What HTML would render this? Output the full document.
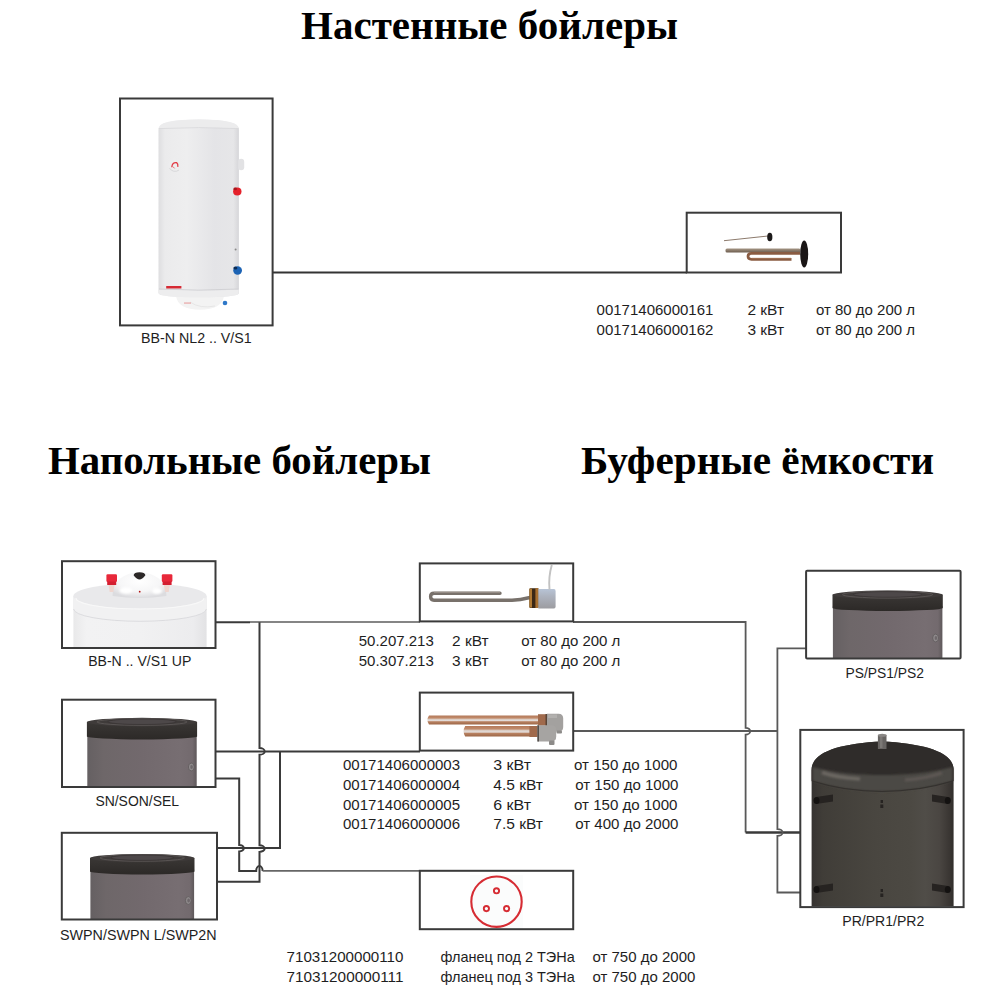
<!DOCTYPE html>
<html><head><meta charset="utf-8"><title>Boilers</title>
<style>
html,body{margin:0;padding:0;background:#fff;width:1000px;height:1000px;overflow:hidden}
svg{display:block}
text{font-family:"Liberation Sans",sans-serif}
.h{font-family:"Liberation Serif",serif;font-weight:bold;font-size:39px;fill:#000}
.t{font-size:14.8px;fill:#1e1e1e}
.l{font-size:14.8px;fill:#1e1e1e}
.bx{fill:none;stroke:#3a3a3a;stroke-width:2}
.ln{fill:none;stroke:#474747;stroke-width:1.6}
</style></head><body>
<svg width="1000" height="1000" viewBox="0 0 1000 1000">
<defs>
<linearGradient id="gWhite" x1="0" x2="1" y1="0" y2="0">
 <stop offset="0" stop-color="#dedee0"/>
 <stop offset="0.08" stop-color="#ebebec"/>
 <stop offset="0.35" stop-color="#eeeeef"/>
 <stop offset="0.7" stop-color="#e4e4e7"/>
 <stop offset="0.93" stop-color="#e6e6e8"/>
 <stop offset="1" stop-color="#d6d6d9"/>
</linearGradient>
<linearGradient id="gWhite2" x1="0" x2="1" y1="0" y2="0">
 <stop offset="0" stop-color="#e9e9ea"/>
 <stop offset="0.1" stop-color="#f2f2f3"/>
 <stop offset="0.5" stop-color="#f1f1f2"/>
 <stop offset="0.9" stop-color="#ececee"/>
 <stop offset="1" stop-color="#e2e2e4"/>
</linearGradient>
<linearGradient id="gGray" x1="0" x2="1" y1="0" y2="0">
 <stop offset="0" stop-color="#656062"/>
 <stop offset="0.15" stop-color="#6e6769"/>
 <stop offset="0.5" stop-color="#72696d"/>
 <stop offset="0.85" stop-color="#776e72"/>
 <stop offset="0.96" stop-color="#736a6e"/>
 <stop offset="1" stop-color="#5e585a"/>
</linearGradient>
<linearGradient id="gLid" x1="0" x2="0" y1="0" y2="1">
 <stop offset="0" stop-color="#3a3735"/>
 <stop offset="1" stop-color="#2c2927"/>
</linearGradient>
<linearGradient id="gDark" x1="0" x2="1" y1="0" y2="0">
 <stop offset="0" stop-color="#363331"/>
 <stop offset="0.08" stop-color="#403d38"/>
 <stop offset="0.45" stop-color="#494640"/>
 <stop offset="0.7" stop-color="#4c4943"/>
 <stop offset="0.8" stop-color="#504d48"/>
 <stop offset="0.9" stop-color="#4a4642"/>
 <stop offset="0.97" stop-color="#3a3633"/>
 <stop offset="1" stop-color="#312e2b"/>
</linearGradient>
<linearGradient id="gDome" x1="0" x2="0" y1="0" y2="1">
 <stop offset="0" stop-color="#2c2927"/>
 <stop offset="0.5" stop-color="#32302d"/>
 <stop offset="1" stop-color="#3c3936"/>
</linearGradient>
<radialGradient id="gDomeW" cx="0.5" cy="0.35" r="0.65">
 <stop offset="0" stop-color="#ffffff"/>
 <stop offset="0.6" stop-color="#f6f6f7"/>
 <stop offset="1" stop-color="#dcdcdf"/>
</radialGradient>
<filter id="blur1" x="-20%" y="-50%" width="140%" height="200%"><feGaussianBlur stdDeviation="1"/></filter>
<filter id="blur2" x="-20%" y="-50%" width="140%" height="200%"><feGaussianBlur stdDeviation="2"/></filter>
<linearGradient id="gCopper" x1="0" x2="0" y1="0" y2="1">
 <stop offset="0" stop-color="#b47a5a"/>
 <stop offset="0.3" stop-color="#c28c6c"/>
 <stop offset="0.38" stop-color="#d9c8bd"/>
 <stop offset="0.58" stop-color="#e4dedb"/>
 <stop offset="0.68" stop-color="#b98262"/>
 <stop offset="1" stop-color="#9c6646"/>
</linearGradient>
<linearGradient id="gCap" x1="0" x2="0" y1="0" y2="1">
 <stop offset="0" stop-color="#9a9a9c"/>
 <stop offset="0.5" stop-color="#a9a9aa"/>
 <stop offset="1" stop-color="#8f8f91"/>
</linearGradient>
<linearGradient id="gCap1" x1="0" x2="0" y1="0" y2="1">
 <stop offset="0" stop-color="#b8c4d6"/>
 <stop offset="0.35" stop-color="#aeb4c0"/>
 <stop offset="1" stop-color="#9c9ca0"/>
</linearGradient>
<linearGradient id="gRod" x1="0" x2="0" y1="0" y2="1">
 <stop offset="0" stop-color="#a39483"/>
 <stop offset="0.45" stop-color="#8c7c6c"/>
 <stop offset="1" stop-color="#6a5a4c"/>
</linearGradient>
</defs>
<!-- images -->
<g>
<path d="M176 296 Q178 309.5 200 309.8 Q222 309.5 224 296 Z" fill="#f3f3f3"/>
<path d="M190 302 Q200 309 215 306" fill="none" stroke="#e6e6e6" stroke-width="1"/>
<path d="M158.5 130 Q158.5 119.5 198.7 119.5 Q238.9 119.5 238.9 130 V293 Q238.9 297.3 198.7 297.3 Q158.5 297.3 158.5 293 Z" fill="url(#gWhite)"/>
<path d="M158.6 289.5 Q198.7 292 238.8 289.5 V293 Q238.9 297.3 198.7 297.3 Q158.5 297.3 158.6 293 Z" fill="#ededee"/>
<path d="M158.6 128.5 Q158.6 119.5 198.7 119.5 Q238.8 119.5 238.8 128.5 Q198.7 126.5 158.6 128.5 Z" fill="#ececed"/>
<path d="M158.8 128.6 Q198.7 126.6 238.6 128.6" fill="none" stroke="#d6d6d8" stroke-width="0.7"/>
<path d="M159 289 Q198.7 291.3 238.5 289" fill="none" stroke="#cfcfd2" stroke-width="0.9"/>
<rect x="238.2" y="158.8" width="6" height="11.4" rx="3" fill="#e2e2e4"/>
<circle cx="174.6" cy="165" r="6.3" fill="#ededee"/>
<path d="M169.5 168 A6.3 6.3 0 0 0 179 170" fill="none" stroke="#d8d8da" stroke-width="1"/>
<path d="M171.8 167.3 Q172.2 162 176.6 162.6 Q178.3 163.8 177.8 166.8" fill="none" stroke="#e23a44" stroke-width="1.3"/>
<path d="M172.8 166.5 L174.6 168.4" stroke="#e86a70" stroke-width="1"/>
<ellipse cx="237.3" cy="191.6" rx="4.2" ry="4" fill="#e5212b"/>
<ellipse cx="235.2" cy="188.9" rx="1.8" ry="1.4" fill="#a8161c"/>
<ellipse cx="237.6" cy="270.5" rx="4.4" ry="4.2" fill="#1c63b4"/>
<ellipse cx="235.4" cy="268" rx="2" ry="1.5" fill="#0b2c55"/>
<circle cx="235.6" cy="249.5" r="1" fill="#8a8a8a"/>
<rect x="166.2" y="286" width="15.2" height="2.5" fill="#d62a34"/>
<rect x="184" y="302.5" width="7" height="1.1" fill="#e8a0a0"/>
<circle cx="225" cy="303" r="2.3" fill="#2f78c8"/>
</g>
<g>
<line x1="724" y1="240.7" x2="768" y2="236" stroke="#8c7a6c" stroke-width="1"/>
<ellipse cx="769.8" cy="237" rx="2.6" ry="4.3" fill="#1c1a1a"/>
<rect x="725.5" y="248.6" width="75" height="4" rx="1.5" fill="url(#gRod)"/>
<path d="M800 253.3 H751.5 Q748 253.3 748 256.3 Q748 259.3 751.5 259.3 H791.5" fill="none" stroke="#8a5c42" stroke-width="2.7"/>
<path d="M751.5 258.3 H791" fill="none" stroke="#a87a5c" stroke-width="0.8"/>
<ellipse cx="804.2" cy="254" rx="4" ry="13.5" fill="#1a1616"/>
</g>
<g>
<rect x="73.4" y="596" width="133.2" height="51" fill="url(#gWhite2)"/>
<path d="M73.4 596 V609 A66.6 12.5 0 0 0 206.6 609 V596 Z" fill="#f1f1f2"/>
<path d="M73.6 609 A66.4 12.3 0 0 0 206.4 609" fill="none" stroke="#d9d9dd" stroke-width="0.9"/>
<ellipse cx="140" cy="596" rx="66.6" ry="12.6" fill="#e9e9eb"/>
<path d="M76 598 A64 11 0 0 0 204 598" fill="none" stroke="#f8f8f8" stroke-width="1.2"/>
<path d="M112.6 596 C112.6 581 124 572.6 139.5 572.6 C155 572.6 166.4 581 166.4 596 Q139.5 600 112.6 596 Z" fill="url(#gDomeW)"/>
<ellipse cx="126" cy="590.5" rx="6.5" ry="3.2" fill="#ffffff" filter="url(#blur1)"/>
<ellipse cx="157" cy="591" rx="5" ry="3" fill="#ffffff" filter="url(#blur1)"/>
<path d="M133.6 575.3 Q134 572.4 139.5 572.3 Q145 572.4 145.4 575.3 Q142 579.6 139.5 579.6 Q137 579.6 133.6 575.3 Z" fill="#2c2828"/>
<circle cx="139.7" cy="591.7" r="0.9" fill="#b01010"/>
<rect x="106.4" y="574.2" width="10.6" height="7.8" rx="1.2" fill="#e8283a"/>
<rect x="107.2" y="581.5" width="9" height="3.5" fill="#d41f30"/>
<path d="M108.5 585 H114.5 L113.3 592 H109.7 Z" fill="#efd6cf"/>
<rect x="161.8" y="574.2" width="10.6" height="7.8" rx="1.2" fill="#e8283a"/>
<rect x="162.6" y="581.5" width="9" height="3.5" fill="#d41f30"/>
<path d="M163.9 585 H169.9 L168.7 592 H165.1 Z" fill="#efd6cf"/>
</g>
<rect x="87.3" y="734.4" width="109.4" height="52.6" fill="url(#gGray)"/>
<path d="M86.9 722.1 V736.4 A55.1 3 0 0 0 197.1 736.4 V722.1 Z" fill="url(#gLid)"/>
<ellipse cx="142.0" cy="722.1" rx="55.1" ry="4.3" fill="#3f3b3a"/>
<ellipse cx="142.0" cy="721.9" rx="45.1" ry="3.4" fill="none" stroke="#5b5756" stroke-width="0.9"/>
<ellipse cx="142.0" cy="721.7" rx="34.1" ry="2.8" fill="#4d4849" stroke="#353130" stroke-width="0.6"/>
<ellipse cx="191.3" cy="767" rx="2.9" ry="3.9" fill="#8e898b" stroke="#5e595b" stroke-width="0.8"/>
<ellipse cx="191.60000000000002" cy="767" rx="1.3" ry="1.9" fill="#6e686b"/>
<rect x="90.4" y="869.4" width="103.7" height="49.6" fill="url(#gGray)"/>
<path d="M90 858.1 V871.4 A52.2 3 0 0 0 194.5 871.4 V858.1 Z" fill="url(#gLid)"/>
<ellipse cx="142.2" cy="858.1" rx="52.2" ry="4.1" fill="#3f3b3a"/>
<ellipse cx="142.2" cy="857.9" rx="42.2" ry="3.3" fill="none" stroke="#5b5756" stroke-width="0.9"/>
<ellipse cx="142.2" cy="857.7" rx="31.2" ry="2.7" fill="#4d4849" stroke="#353130" stroke-width="0.6"/>
<ellipse cx="188.3" cy="900.5" rx="2.9" ry="3.9" fill="#8e898b" stroke="#5e595b" stroke-width="0.8"/>
<ellipse cx="188.60000000000002" cy="900.5" rx="1.3" ry="1.9" fill="#6e686b"/>
<rect x="832.9" y="606.0" width="109.5" height="52.5" fill="url(#gGray)"/>
<path d="M832.5 594.8 V608 A55.1 3 0 0 0 942.8 608 V594.8 Z" fill="url(#gLid)"/>
<ellipse cx="887.6" cy="594.8" rx="55.1" ry="4.3" fill="#3f3b3a"/>
<ellipse cx="887.6" cy="594.6" rx="45.1" ry="3.4" fill="none" stroke="#5b5756" stroke-width="0.9"/>
<ellipse cx="887.6" cy="594.4" rx="34.1" ry="2.8" fill="#4d4849" stroke="#353130" stroke-width="0.6"/>
<ellipse cx="935.6" cy="638" rx="2.9" ry="3.9" fill="#8e898b" stroke="#5e595b" stroke-width="0.8"/>
<ellipse cx="935.9" cy="638" rx="1.3" ry="1.9" fill="#6e686b"/>
<g>
<path d="M500 593.2 H434 Q430.6 593.2 430.6 596.6 Q430.6 600.2 434 600.2 H512 Q520 600 530 597.5" fill="none" stroke="#78716b" stroke-width="3.4" stroke-linecap="round"/>
<path d="M500 592.4 H434" fill="none" stroke="#9c948d" stroke-width="0.9"/>
<rect x="529.4" y="588.2" width="9.2" height="19.8" rx="1.2" fill="#3a2816"/>
<rect x="529.4" y="588.6" width="2.6" height="19" fill="#b07a34"/>
<rect x="535.4" y="588.2" width="3" height="19.8" fill="#a87030"/>
<path d="M538.4 589 H554 Q555.6 589 555.6 591 V606.5 Q555.6 608.6 554 608.6 H538.4 Z" fill="url(#gCap1)"/>
<path d="M549.5 589.5 Q548.3 577 551.8 565" fill="none" stroke="#c2c2c2" stroke-width="1.9"/>
</g>
<g>
<path d="M429 715.5 H547 V724.6 H429 Q425.8 720 429 715.5 Z" fill="url(#gCopper)"/>
<path d="M465.2 726 H538 V736.6 H465.2 Q462 731.3 465.2 726 Z" fill="url(#gCopper)"/>
<rect x="538" y="714.2" width="9.5" height="11.5" fill="#a06a4c"/>
<rect x="545.5" y="714" width="1.8" height="12" fill="#5a4436"/>
<path d="M547 713.7 H558.5 Q563.2 713.7 563.2 718.5 V727 Q563.2 731.6 558.5 731.6 H547 Z" fill="#a3a19f"/>
<path d="M548 714.5 H557 V718 H548 Z" fill="#b2b0ae"/>
<rect x="556.5" y="730.5" width="5.5" height="3" rx="1" fill="#8d8b89"/>
<rect x="529.4" y="726" width="8.5" height="11" fill="#a06a4c"/>
<path d="M537.4 725.3 H551.5 Q556.2 725.3 556.2 730.3 V736.5 Q556.2 741.5 551.5 741.5 H537.4 Z" fill="#a6a4a2"/>
<rect x="537.4" y="725.3" width="1.6" height="16.2" fill="#55504c"/>
<rect x="549" y="740.5" width="5.5" height="4.5" rx="1" fill="#8d8b89"/>
</g>
<g fill="none" stroke="#d62c33" stroke-width="2.1">
<rect x="470" y="875" width="53" height="54" fill="#fbfcfc" stroke="none"/>
<circle cx="496.5" cy="901.7" r="25.2"/>
<circle cx="496.5" cy="890.8" r="2.6" stroke-width="1.9"/>
<circle cx="486.4" cy="908.6" r="2.6" stroke-width="1.9"/>
<circle cx="506.6" cy="908.6" r="2.6" stroke-width="1.9"/>
</g>
<g>
<path d="M811.6 906.5 V770 C811.6 752 840 743.5 882 741.6 C924 743.5 953.6 752 953.6 770 V906.5 Z" fill="url(#gDark)"/>
<path d="M811.6 781 V770 C811.6 752 840 743.5 882 741.6 C924 743.5 953.6 752 953.6 770 V781 C930 788 905 791.5 882 791.5 C859 791.5 834 788 811.6 781 Z" fill="#2f2c2a"/>
<path d="M812.5 767 C835 773 860 775 882 775 C905 775 930 773 952.5 767 V781 C930 788 905 791.5 882 791.5 C859 791.5 834 788 812.5 781 Z" fill="#4b4844" filter="url(#blur1)"/>
<path d="M822 772.5 C832 776 845 778 860 779" fill="none" stroke="#6c6762" stroke-width="3.5" filter="url(#blur1)"/>
<path d="M905 780 C918 779 930 777 942 773" fill="none" stroke="#5e5955" stroke-width="3" filter="url(#blur1)"/>
<path d="M812 781 C834 788 859 791.5 882 791.5 C905 791.5 930 788 953 781" fill="none" stroke="#34312e" stroke-width="1.1"/>
<rect x="877.9" y="735" width="8.6" height="14" fill="#686563"/>
<rect x="880" y="735" width="2.5" height="13" fill="#7c7976"/>
<ellipse cx="882.2" cy="735.2" rx="4.3" ry="1.5" fill="#8a8785"/>
<g fill="#262321">
<path d="M816 797 L833 794.5 V801.5 L816 804 Z"/><ellipse cx="816.5" cy="800.5" rx="3" ry="3.6" fill="#141211"/>
<path d="M932 794.5 L948 797 V804 L932 801.5 Z"/><ellipse cx="947.8" cy="800.5" rx="3" ry="3.6" fill="#141211"/>
<path d="M816 886 L833 883.5 V890.5 L816 893 Z"/><ellipse cx="816.5" cy="889.5" rx="3" ry="3.6" fill="#141211"/>
<path d="M932 883.5 L948 886 V893 L932 890.5 Z"/><ellipse cx="947.8" cy="889.5" rx="3" ry="3.6" fill="#141211"/>
<rect x="880.6" y="800" width="2.4" height="3"/><rect x="880.3" y="804.5" width="3" height="3.5"/>
<rect x="880.6" y="889" width="2.4" height="3"/><rect x="880.3" y="893.5" width="3" height="3.5"/>
</g>
</g>
<!-- headings -->
<text class="h" x="301.0" y="39" textLength="377.0" lengthAdjust="spacingAndGlyphs">Настенные бойлеры</text>
<text class="h" x="48.0" y="473.5" textLength="383.0" lengthAdjust="spacingAndGlyphs">Напольные бойлеры</text>
<text class="h" x="581.0" y="473.5" textLength="353.0" lengthAdjust="spacingAndGlyphs">Буферные ёмкости</text>

<!-- connector lines -->
<line x1="273" y1="272.5" x2="687" y2="272.5" stroke="#333" stroke-width="2"/>
<g fill="none" stroke="#3a3a3a" stroke-width="2">
<path d="M216 622.2 H250"/>
<path d="M250 622 H420" stroke="#5c5c5c" stroke-width="1.7"/>
<path d="M259.5 622.2 V748.1 a5.2 3.3 0 0 1 0 6.6 V845.3 a5.2 3.3 0 0 1 0 6.6 V881.7 H217"/>
<path d="M216 751.5 H420"/>
<path d="M280 751.5 V848.1 H217"/>
<path d="M216 778.5 H239.2 V845 a4.6 3.2 0 0 1 0 6.4 V870.9 H256.2 a3.2 4.8 0 0 1 6.4 0"/>
<path d="M262.6 870.9 H420" stroke="#666" stroke-width="1.7"/>
</g>
<g fill="none" stroke="#595959" stroke-width="1.8">
<path d="M573 622 H745.6 V727.8 a4.6 3.4 0 0 1 0 6.8 V832.5"/>
<path d="M745.6 832.5 H800" stroke="#3a3a3a" stroke-width="2.3"/>
<path d="M574 731 H777.4"/>
<path d="M806 648.3 H777.4 V829.1 a5.2 3.4 0 0 1 0 6.8 V892.5 H800"/>
</g>

<!-- boxes -->
<rect class="bx" x="120" y="98.5" width="152.6" height="226.9"/>
<rect class="bx" x="686.7" y="212.7" width="154.3" height="59.8"/>
<rect class="bx" x="62" y="561.2" width="153.5" height="86.8"/>
<rect class="bx" x="62" y="699.7" width="153.5" height="87.3"/>
<rect class="bx" x="61.8" y="832.8" width="155.2" height="86.7"/>
<rect class="bx" x="419.8" y="563.4" width="153.4" height="58"/>
<rect class="bx" x="419.8" y="692.6" width="153.4" height="58"/>
<rect class="bx" x="419.8" y="870.8" width="153.4" height="58.4"/>
<rect class="bx" x="806.1" y="570.7" width="154.5" height="87.9" rx="1"/>
<rect class="bx" x="800.3" y="729.9" width="163.3" height="177.2"/>

<!-- labels -->
<text class="l" x="141.0" y="343.2" textLength="110.7" lengthAdjust="spacingAndGlyphs">BB-N NL2 .. V/S1</text>
<text class="l" x="88.2" y="666.2" textLength="103.1" lengthAdjust="spacingAndGlyphs">BB-N .. V/S1 UP</text>
<text class="l" x="95.4" y="806.4" textLength="83.6" lengthAdjust="spacingAndGlyphs">SN/SON/SEL</text>
<text class="l" x="60.0" y="940" textLength="156.6" lengthAdjust="spacingAndGlyphs">SWPN/SWPN L/SWP2N</text>
<text class="l" x="845.5" y="678.2" textLength="78.5" lengthAdjust="spacingAndGlyphs">PS/PS1/PS2</text>
<text class="l" x="842.3" y="926.3" textLength="82.0" lengthAdjust="spacingAndGlyphs">PR/PR1/PR2</text>

<!-- data text top -->
<g class="t">
<text x="596.6" y="314.6" textLength="116.8" lengthAdjust="spacingAndGlyphs">00171406000161</text>
<text x="747.4" y="314.6" textLength="36.6" lengthAdjust="spacingAndGlyphs">2 кВт</text>
<text x="816.0" y="314.6" textLength="99.0" lengthAdjust="spacingAndGlyphs">от 80 до 200 л</text>
<text x="596.6" y="334.6" textLength="116.8" lengthAdjust="spacingAndGlyphs">00171406000162</text>
<text x="747.4" y="334.6" textLength="36.6" lengthAdjust="spacingAndGlyphs">3 кВт</text>
<text x="816.0" y="334.6" textLength="99.0" lengthAdjust="spacingAndGlyphs">от 80 до 200 л</text>

<text x="358.7" y="645.5" textLength="75.1" lengthAdjust="spacingAndGlyphs">50.207.213</text>
<text x="452.1" y="645.5" textLength="36.5" lengthAdjust="spacingAndGlyphs">2 кВт</text>
<text x="521.3" y="645.5" textLength="99.0" lengthAdjust="spacingAndGlyphs">от 80 до 200 л</text>
<text x="358.7" y="665.5" textLength="75.1" lengthAdjust="spacingAndGlyphs">50.307.213</text>
<text x="452.1" y="665.5" textLength="36.5" lengthAdjust="spacingAndGlyphs">3 кВт</text>
<text x="521.3" y="665.5" textLength="99.0" lengthAdjust="spacingAndGlyphs">от 80 до 200 л</text>

<text x="343.0" y="770.1" textLength="117.1" lengthAdjust="spacingAndGlyphs">00171406000003</text>
<text x="493.3" y="770.1" textLength="37.7" lengthAdjust="spacingAndGlyphs">3 кВт</text>
<text x="574.0" y="770.1" textLength="103.4" lengthAdjust="spacingAndGlyphs">от 150 до 1000</text>
<text x="343.0" y="789.9" textLength="117.1" lengthAdjust="spacingAndGlyphs">00171406000004</text>
<text x="493.3" y="789.9" textLength="49.7" lengthAdjust="spacingAndGlyphs">4.5 кВт</text>
<text x="575.2" y="789.9" textLength="103.3" lengthAdjust="spacingAndGlyphs">от 150 до 1000</text>
<text x="343.0" y="809.6" textLength="117.1" lengthAdjust="spacingAndGlyphs">00171406000005</text>
<text x="493.3" y="809.6" textLength="37.7" lengthAdjust="spacingAndGlyphs">6 кВт</text>
<text x="574.0" y="809.6" textLength="103.4" lengthAdjust="spacingAndGlyphs">от 150 до 1000</text>
<text x="343.0" y="829.4" textLength="117.1" lengthAdjust="spacingAndGlyphs">00171406000006</text>
<text x="493.3" y="829.4" textLength="49.7" lengthAdjust="spacingAndGlyphs">7.5 кВт</text>
<text x="575.2" y="829.4" textLength="103.3" lengthAdjust="spacingAndGlyphs">от 400 до 2000</text>

<text x="286.6" y="961.6" textLength="116.8" lengthAdjust="spacingAndGlyphs">71031200000110</text>
<text x="440.4" y="961.6" textLength="134.4" lengthAdjust="spacingAndGlyphs">фланец под 2 ТЭНа</text>
<text x="592.5" y="961.6" textLength="102.8" lengthAdjust="spacingAndGlyphs">от 750 до 2000</text>
<text x="286.6" y="981.6" textLength="116.8" lengthAdjust="spacingAndGlyphs">71031200000111</text>
<text x="440.4" y="981.6" textLength="134.4" lengthAdjust="spacingAndGlyphs">фланец под 3 ТЭНа</text>
<text x="592.5" y="981.6" textLength="102.8" lengthAdjust="spacingAndGlyphs">от 750 до 2000</text>
</g>


</svg>
</body></html>
